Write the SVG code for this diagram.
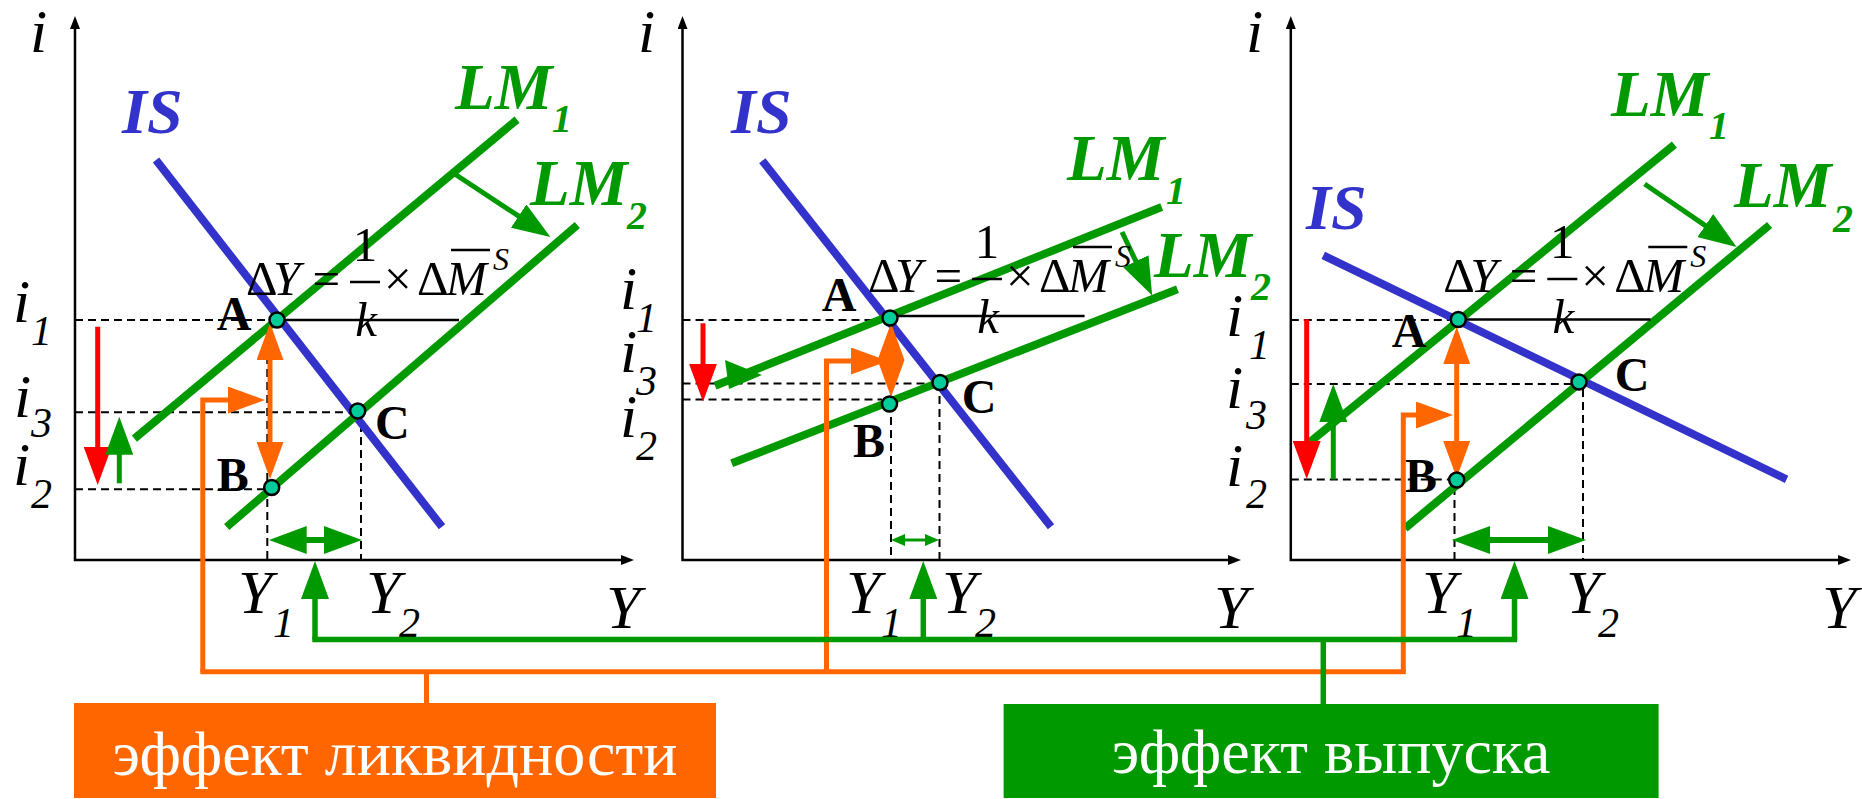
<svg xmlns="http://www.w3.org/2000/svg" width="1862" height="799" viewBox="0 0 1862 799" font-family="'Liberation Serif', 'DejaVu Serif', serif">
<style>
text{font-family:'Liberation Serif','DejaVu Serif',serif;fill:#000}
.it{font-style:italic}
.m{font-size:62px}
.s{font-size:42px}
.f{font-size:49px}
.lab{font-size:48px;font-weight:bold}
.lm{font-size:65px;font-style:italic;font-weight:bold;fill:#009900}
.lms{font-size:40px;font-style:italic;font-weight:bold;fill:#009900}
.isl{font-size:64px;font-style:italic;font-weight:bold;fill:#3333CC}
.ax{stroke:#000;stroke-width:2.5;fill:none}
.dash{stroke:#000;stroke-width:2;stroke-dasharray:8 5;fill:none}
.thin{stroke:#000;stroke-width:2.5;fill:none}
.is{stroke:#3333CC;stroke-width:8;fill:none}
.lmc{stroke:#009900;stroke-width:8;fill:none}
.ga{stroke:#009900;stroke-width:5;fill:none}
.oa{stroke:#FF6600;stroke-width:5;fill:none}
.ra{stroke:#FF0000;stroke-width:5;fill:none}
.pt{fill:#00CC99;stroke:#000;stroke-width:2.5}
.box{font-size:64px;fill:#fff}
</style>
<defs>
<marker id="aG" viewBox="0 0 38 28" refX="1" refY="14" markerWidth="38" markerHeight="28" markerUnits="userSpaceOnUse" orient="auto-start-reverse"><path d="M0,0L38,14L0,28z" fill="#009900"/></marker>
<marker id="aO" viewBox="0 0 37 27" refX="1" refY="13.5" markerWidth="37" markerHeight="27" markerUnits="userSpaceOnUse" orient="auto-start-reverse"><path d="M0,0L37,13.5L0,27z" fill="#FF6600"/></marker>
<marker id="aR" viewBox="0 0 38 28" refX="1" refY="14" markerWidth="38" markerHeight="28" markerUnits="userSpaceOnUse" orient="auto-start-reverse"><path d="M0,0L38,14L0,28z" fill="#FF0000"/></marker>
<marker id="aGs" viewBox="0 0 14 12" refX="1" refY="6" markerWidth="14" markerHeight="12" markerUnits="userSpaceOnUse" orient="auto-start-reverse"><path d="M0,0L14,6L0,12z" fill="#009900"/></marker>
<marker id="aK" viewBox="0 0 13 10" refX="1" refY="5" markerWidth="13" markerHeight="10" markerUnits="userSpaceOnUse" orient="auto-start-reverse"><path d="M0,0L13,5L0,10z" fill="#000"/></marker>
</defs>
<rect width="1862" height="799" fill="#fff"/>

<!-- Panel 1 -->
<g id="panel1">
<path class="ax" d="M75,28V560H622" marker-start="url(#aK)" marker-end="url(#aK)"/>
<path class="dash" d="M75,320H270M75,412.3H357M75,489.3H271M267.3,330V560M361,411V560"/>
<path class="is" d="M156,160L442,526.8"/>
<path class="lmc" d="M134.4,438.6L517,119.6"/>
<path class="lmc" d="M226.7,527L577.3,225"/>
<path class="thin" d="M277,320H459"/>
<path class="ga" d="M454.7,174L519.5,216.7" marker-end="url(#aG)"/>
<path class="ra" d="M97.7,326.7V448" marker-end="url(#aR)"/>
<path class="ga" d="M119.3,483.3V453.7" marker-end="url(#aG)"/>
<path class="oa" d="M270,359V443" marker-start="url(#aO)" marker-end="url(#aO)"/>
<path class="ga" style="stroke-width:6" d="M305.7,540H325" marker-start="url(#aG)" marker-end="url(#aG)"/>
<circle class="pt" cx="277" cy="320" r="7.5"/>
<circle class="pt" cx="271.7" cy="487.5" r="7.5"/>
<circle class="pt" cx="357.7" cy="411" r="7.5"/>
<text class="it m" x="30" y="51.8">i</text>
<text class="it m" x="13" y="321.7">i</text><text class="it s" x="31" y="345">1</text>
<text class="it m" x="14" y="416.7">i</text><text class="it s" x="31" y="436.7">3</text>
<text class="it m" x="13" y="485">i</text><text class="it s" x="31" y="508">2</text>
<text class="it m" x="238" y="613.3">Y</text><text class="it s" x="273" y="636.7">1</text>
<text class="it m" x="366" y="613.3">Y</text><text class="it s" x="399" y="636.7">2</text>
<text class="it m" x="606" y="628.3">Y</text>
<text class="isl" x="122" y="133">IS</text>
<text class="lm" x="455" y="109">LM</text><text class="lms" x="552" y="132">1</text>
<text class="lm" x="530" y="205">LM</text><text class="lms" x="627" y="228.6">2</text>
<text class="lab" x="216.7" y="330">A</text>
<text class="lab" x="216.7" y="490.7">B</text>
<text class="lab" x="375" y="439">C</text>
<g id="formula1">
<text class="f" x="246" y="294.6">Δ</text>
<text class="f it" x="273" y="294.6">Y</text>
<text class="f" x="312.5" y="294.6">=</text>
<text class="f" x="365" y="261" text-anchor="middle">1</text>
<path class="thin" d="M350,282H380"/>
<text class="f it" x="366" y="336" text-anchor="middle">k</text>
<text class="f" x="384" y="294.6">×</text>
<text class="f" x="417" y="294.6">Δ</text>
<text class="f it" x="446" y="294.6">M</text>
<path class="thin" d="M451,250H490"/>
<text class="it" style="font-size:32px" x="493" y="270">S</text>
</g>
</g>

<!-- Panel 2 -->
<g id="panel2">
<path class="ax" d="M682.5,28V560H1229" marker-start="url(#aK)" marker-end="url(#aK)"/>
<path class="dash" d="M682.5,320H873M682.5,383.5H933M682.5,399.5H882M891,404V560M939.5,383V560"/>
<path class="is" d="M762.3,160.7L1051,526.8"/>
<path class="lmc" d="M715,385.7L1161.7,207"/>
<path class="lmc" d="M731.7,463.3L1177.5,289.3"/>
<path class="thin" d="M892.8,316H1084.6"/>
<path class="ga" d="M1122,232L1136.3,262.1" marker-end="url(#aG)"/>
<path class="ra" d="M703,323.3V364.7" marker-end="url(#aR)"/>
<polygon points="725,360 762,375 729,389" fill="#009900"/>
<path class="oa" d="M891,359V361" marker-start="url(#aO)" marker-end="url(#aO)"/>
<path class="ga" style="stroke-width:3" d="M904,540H926" marker-start="url(#aGs)" marker-end="url(#aGs)"/>
<circle class="pt" cx="890" cy="318" r="7.5"/>
<circle class="pt" cx="889.5" cy="404" r="7.5"/>
<circle class="pt" cx="940" cy="382.5" r="7.5"/>
<text class="it m" x="638" y="51.8">i</text>
<text class="it m" x="620" y="309.3">i</text><text class="it s" x="636" y="331.7">1</text>
<text class="it m" x="620" y="371.7">i</text><text class="it s" x="636" y="395">3</text>
<text class="it m" x="620" y="436.7">i</text><text class="it s" x="636" y="460">2</text>
<text class="it m" x="846" y="613.3">Y</text><text class="it s" x="881" y="636.7">1</text>
<text class="it m" x="942" y="613.3">Y</text><text class="it s" x="975" y="636.7">2</text>
<text class="it m" x="1214" y="628.3">Y</text>
<text class="isl" x="731" y="133">IS</text>
<text class="lm" x="1067" y="180.4">LM</text><text class="lms" x="1166" y="203.6">1</text>
<text class="lm" x="1154" y="276.8">LM</text><text class="lms" x="1251" y="300">2</text>
<text class="lab" x="821.7" y="310.7">A</text>
<text class="lab" x="853" y="456.7">B</text>
<text class="lab" x="961.7" y="413.3">C</text>
<g id="formula2" transform="translate(622,-3)">
<text class="f" x="246" y="294.6">Δ</text>
<text class="f it" x="273" y="294.6">Y</text>
<text class="f" x="312.5" y="294.6">=</text>
<text class="f" x="365" y="261" text-anchor="middle">1</text>
<path class="thin" d="M350,282H380"/>
<text class="f it" x="366" y="336" text-anchor="middle">k</text>
<text class="f" x="384" y="294.6">×</text>
<text class="f" x="417" y="294.6">Δ</text>
<text class="f it" x="446" y="294.6">M</text>
<path class="thin" d="M451,250H490"/>
<text class="it" style="font-size:32px" x="493" y="270">S</text>
</g>
</g>

<!-- Panel 3 -->
<g id="panel3">
<path class="ax" d="M1290.8,28V560H1839" marker-start="url(#aK)" marker-end="url(#aK)"/>
<path class="dash" d="M1290.8,320H1451M1290.8,384H1572M1290.8,479.5H1449M1454.5,487V560M1583,389V560"/>
<path class="is" d="M1323.3,255.4L1786.6,479.3"/>
<path class="lmc" d="M1308.3,443.3L1674.4,144.6"/>
<path class="lmc" d="M1405,528.3L1769.6,225"/>
<path class="thin" d="M1458,319.6H1650.6"/>
<path class="ga" d="M1644.6,184L1706.1,226.1" marker-end="url(#aG)"/>
<path class="ra" d="M1306.7,319.3V442" marker-end="url(#aR)"/>
<path class="ga" d="M1333.3,479.3V421" marker-end="url(#aG)"/>
<path class="oa" d="M1456.7,363V442" marker-start="url(#aO)" marker-end="url(#aO)"/>
<path class="ga" style="stroke-width:6" d="M1489,540H1549" marker-start="url(#aG)" marker-end="url(#aG)"/>
<circle class="pt" cx="1458.3" cy="319.5" r="7.5"/>
<circle class="pt" cx="1456.7" cy="480" r="7.5"/>
<circle class="pt" cx="1579" cy="382" r="7.5"/>
<text class="it m" x="1246" y="51.8">i</text>
<text class="it m" x="1226" y="336">i</text><text class="it s" x="1249" y="358.5">1</text>
<text class="it m" x="1226" y="408">i</text><text class="it s" x="1246" y="428.5">3</text>
<text class="it m" x="1226" y="486">i</text><text class="it s" x="1246" y="508.3">2</text>
<text class="it m" x="1422" y="613.3">Y</text><text class="it s" x="1456" y="636.7">1</text>
<text class="it m" x="1566" y="613.3">Y</text><text class="it s" x="1598" y="636.7">2</text>
<text class="it m" x="1822" y="628.3">Y</text>
<text class="isl" x="1306" y="228.6">IS</text>
<text class="lm" x="1611" y="116">LM</text><text class="lms" x="1709" y="139.3">1</text>
<text class="lm" x="1734" y="207">LM</text><text class="lms" x="1833" y="232">2</text>
<text class="lab" x="1391.7" y="346.7">A</text>
<text class="lab" x="1405" y="491.7">B</text>
<text class="lab" x="1614.8" y="391">C</text>
<g id="formula3" transform="translate(1197.3,-3)">
<text class="f" x="246" y="294.6">Δ</text>
<text class="f it" x="273" y="294.6">Y</text>
<text class="f" x="312.5" y="294.6">=</text>
<text class="f" x="365" y="261" text-anchor="middle">1</text>
<path class="thin" d="M350,282H380"/>
<text class="f it" x="366" y="336" text-anchor="middle">k</text>
<text class="f" x="384" y="294.6">×</text>
<text class="f" x="417" y="294.6">Δ</text>
<text class="f it" x="446" y="294.6">M</text>
<path class="thin" d="M451,250H490"/>
<text class="it" style="font-size:32px" x="493" y="270">S</text>
</g>
</g>

<!-- Connectors -->
<g id="connectors">
<path class="oa" d="M202.8,671.7V400H229" marker-end="url(#aO)"/>
<path class="oa" d="M826.5,671.7V361H852" marker-end="url(#aO)"/>
<path class="oa" d="M1403.3,671.7V415H1417" marker-end="url(#aO)"/>
<path class="oa" d="M200.3,671.7H1405.8M426.5,671.7V703"/>
<path class="ga" style="stroke-width:5.5" d="M315,639.5V598" marker-end="url(#aG)"/>
<path class="ga" style="stroke-width:5.5" d="M923.3,639.5V598" marker-end="url(#aG)"/>
<path class="ga" style="stroke-width:5.5" d="M1514.5,639.5V598" marker-end="url(#aG)"/>
<path class="ga" style="stroke-width:5.5" d="M312.3,639.5H1517.2M1323.3,639.5V704"/>
</g>

<!-- Nodes -->
<g id="liquidity-effect">
<rect x="74" y="703" width="642" height="95" fill="#FF6600"/>
<text class="box" x="395" y="775" text-anchor="middle">эффект ликвидности</text>
</g>
<g id="output-effect">
<rect x="1003.6" y="704" width="655" height="94" fill="#009900"/>
<text class="box" x="1331" y="773" text-anchor="middle">эффект выпуска</text>
</g>
</svg>
